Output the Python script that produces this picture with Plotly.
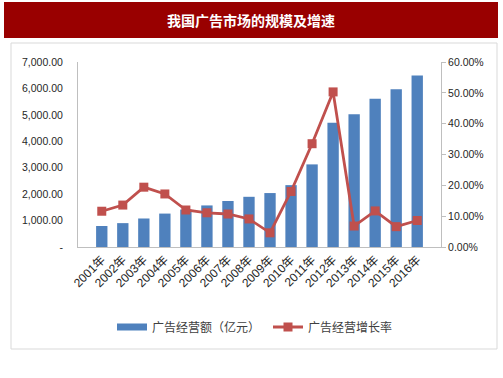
import plotly.graph_objects as go

years = ["2001年", "2002年", "2003年", "2004年", "2005年", "2006年", "2007年", "2008年",
         "2009年", "2010年", "2011年", "2012年", "2013年", "2014年", "2015年", "2016年"]
revenue = [794.9, 903.2, 1078.7, 1264.6, 1416.3, 1573.0, 1741.0, 1899.6,
           2041.0, 2340.5, 3125.6, 4698.3, 5019.8, 5605.6, 5973.4, 6489.1]
growth = [11.6, 13.6, 19.4, 17.2, 12.0, 11.1, 10.7, 9.1,
          4.6, 18.0, 33.5, 50.3, 6.8, 11.7, 6.6, 8.6]
left_ticks = [0, 1000, 2000, 3000, 4000, 5000, 6000, 7000]
left_text = ["-", "1,000.00", "2,000.00", "3,000.00", "4,000.00", "5,000.00", "6,000.00", "7,000.00"]
right_ticks = [0, 10, 20, 30, 40, 50, 60]
right_text = ["0.00%", "10.00%", "20.00%", "30.00%", "40.00%", "50.00%", "60.00%"]

FONT = "Liberation Sans, Noto Sans CJK SC, sans-serif"
TXT = "#404040"
BLUE = "#4F81BD"
RED = "#C0504D"

fig = go.Figure()
fig.add_trace(go.Bar(x=years, y=revenue, name="广告经营额（亿元）", showlegend=False,
                     marker=dict(color=BLUE, line=dict(width=0))))
# legend-only entry drawn as a wide block like the reference
fig.add_trace(go.Scatter(x=[None], y=[None], name="广告经营额（亿元）", mode="lines",
                         line=dict(color=BLUE, width=7)))
fig.add_trace(go.Scatter(x=years, y=growth, name="广告经营增长率", yaxis="y2",
                         mode="lines+markers",
                         line=dict(color=RED, width=2.8),
                         marker=dict(symbol="square", size=9, color=RED)))

L, R, T, B = 78, 441, 62, 247
W = R - L
H = B - T
def px(x): return (x - L) / W
def py(y): return (B - y) / H

fig.update_layout(
    width=503, height=378,
    margin=dict(l=L, r=503 - R, t=T, b=378 - B, autoexpand=False),
    paper_bgcolor="white", plot_bgcolor="white",
    bargap=0.46,
    showlegend=True,
    legend=dict(orientation="h", xref="container", x=112 / 503, xanchor="left",
                yref="container", y=1 - 327 / 378, yanchor="middle",
                font=dict(family="Noto Sans CJK SC, sans-serif", size=12, color=TXT),
                itemwidth=30, entrywidth=111, tracegroupgap=0, bgcolor="rgba(0,0,0,0)"),
    xaxis=dict(tickangle=-45, showline=True, linecolor="#BFBFBF", linewidth=1,
               ticks="", tickfont=dict(family=FONT, size=12, color="#262626"),
               showgrid=False, fixedrange=True, automargin=False),
    yaxis=dict(range=[0, 7000], tickvals=left_ticks, ticktext=left_text,
               showline=True, linecolor="#BFBFBF", linewidth=1,
               ticks="outside", ticklen=12, tickcolor="rgba(0,0,0,0)",
               tickfont=dict(family=FONT, size=10.5, color="#262626"),
               showgrid=False, zeroline=False, automargin=False),
    yaxis2=dict(range=[0, 60], tickvals=right_ticks, ticktext=right_text,
                overlaying="y", side="right",
                showline=True, linecolor="#BFBFBF", linewidth=1,
                ticks="outside", ticklen=4, tickcolor="#BFBFBF",
                tickfont=dict(family=FONT, size=10.5, color="#262626"),
                showgrid=False, zeroline=False, automargin=False),
    shapes=[
        dict(type="rect", xref="paper", yref="paper",
             x0=px(11), x1=px(497), y0=py(349), y1=py(43),
             line=dict(color="#D9D9D9", width=1), fillcolor="rgba(0,0,0,0)", layer="below"),
        dict(type="rect", xref="paper", yref="paper",
             x0=px(4), x1=px(498), y0=py(38), y1=py(2),
             line=dict(width=0), fillcolor="#990000", layer="below"),
    ],
    annotations=[
        dict(text="<b>我国广告市场的规模及增速</b>", xref="paper", yref="paper",
             x=px(251), y=py(20), xanchor="center", yanchor="middle", showarrow=False,
             font=dict(family="Noto Sans CJK SC, sans-serif", size=14, color="white")),
    ],
)

fig.write_html("out.html", config={"displayModeBar": False},
               post_script="document.body.style.margin='0';document.body.style.overflow='hidden';")
